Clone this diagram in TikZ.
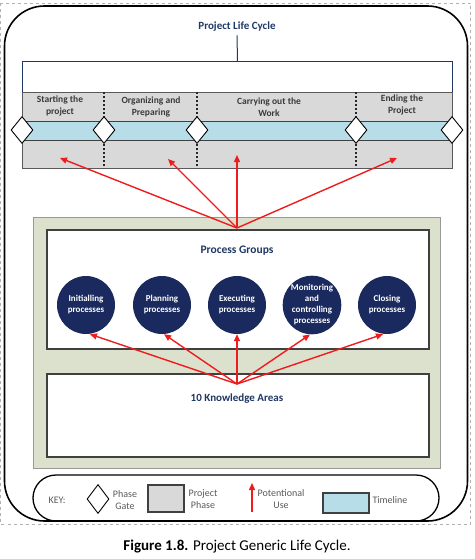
\documentclass[tikz,border=0pt]{standalone}
\usepackage{fontspec}
\setmainfont{Carlito}
\usetikzlibrary{shapes.geometric,arrows.meta}
\definecolor{navy}{HTML}{1F3864}
\definecolor{circnavy}{HTML}{1A2A5E}
\definecolor{phasegray}{HTML}{D9D9D9}
\definecolor{tlblue}{HTML}{B7DEE8}
\definecolor{sage}{HTML}{DCE1CD}
\definecolor{arrred}{HTML}{EE1C1C}
\definecolor{txtgray}{HTML}{3A3A3A}
\definecolor{keygray}{HTML}{595959}
\tikzset{
  gate/.style={shape=diamond,draw=black,line width=0.9pt,fill=white,minimum width=22pt,minimum height=27pt,inner sep=0pt},
  phaselbl/.style={align=center,text=txtgray,font=\fontsize{9.5}{12}\selectfont\bfseries},
  proc/.style={circle,fill=circnavy,minimum size=58pt,inner sep=0pt,align=center,text=white,font=\fontsize{9}{11}\selectfont\bfseries},
  usearrow/.style={draw=arrred,line width=1.4pt,-{Triangle[length=7pt,width=6pt]}},
  divider/.style={draw=black!85,line width=1.3pt,dash pattern=on 2pt off 2pt},
  keytxt/.style={align=center,text=keygray,font=\fontsize{10}{12}\selectfont},
  heading/.style={text=navy,font=\fontsize{11.5}{13}\selectfont\bfseries}
}
\begin{document}
\begin{tikzpicture}[x=1pt,y=-1pt]
\useasboundingbox (0,0) rectangle (474,559);
% dashed figure border
\draw[gray!60,dashed,line width=0.5pt] (0.5,3) rectangle (470.5,524);
% outer frame
\draw[black,line width=1.6pt,rounded corners=40pt] (4.5,6) rectangle (467.5,521);
% title
\node[heading,font=\fontsize{11}{13}\selectfont\bfseries] (title) at (237,27) {Project Life Cycle};
% life cycle bar
\node[draw=navy,line width=1pt,fill=white,minimum width=430pt,minimum height=31pt,inner sep=0pt,anchor=north west] (lcbar) at (22,61) {};
\draw[navy,line width=1pt] (title.south) -- (lcbar.north);
\node[draw=black!65,line width=1pt,fill=phasegray,minimum width=430pt,minimum height=76pt,inner sep=0pt,anchor=north west] (band) at (22,92) {};
\node[draw=black!75,line width=1pt,fill=tlblue,minimum width=430pt,minimum height=19pt,inner sep=0pt,anchor=north west] (timeline) at (22,121) {};
% dividers
\coordinate (d1t) at (104,92); \coordinate (d1b) at (104,168);
\coordinate (d2t) at (197,92); \coordinate (d2b) at (197,168);
\coordinate (d3t) at (356,92); \coordinate (d3b) at (356,168);
\draw[divider] (d1t) -- (d1b);
\draw[divider] (d2t) -- (d2b);
\draw[divider] (d3t) -- (d3b);
% gates
\node[gate] (g0) at (22,130) {};
\node[gate] (g1) at (104,130) {};
\node[gate] (g2) at (197,130) {};
\node[gate] (g3) at (356,130) {};
\node[gate] (g4) at (452,130) {};
% phase labels
\node[phaselbl] (p1) at (60,106) {Starting the\\project};
\node[phaselbl] (p2) at (151,107) {Organizing and\\Preparing};
\node[phaselbl] (p3) at (269,107) {Carrying out the\\Work};
\node[phaselbl] (p4) at (402,105) {Ending the\\Project};
% green panel
\node[draw=black!40,line width=1pt,fill=sage,minimum width=407pt,minimum height=251pt,inner sep=0pt,anchor=north west] (panel) at (33,217) {};
\node[draw=black!75,line width=1.5pt,fill=white,minimum width=382pt,minimum height=119pt,inner sep=0pt,anchor=north west] (pg) at (46,229) {};
\node[draw=black!75,line width=1.5pt,fill=white,minimum width=382pt,minimum height=83pt,inner sep=0pt,anchor=north west] (ka) at (46,373) {};
\node[heading] (pgtitle) at (237,251) {Process Groups};
\node[heading,font=\fontsize{11}{13}\selectfont\bfseries] (katitle) at (237,399) {10 Knowledge Areas};
% circles
\node[proc] (c1) at (86,305) {Initialling\\processes};
\node[proc] (c2) at (162,305) {Planning\\processes};
\node[proc] (c3) at (237,305) {Executing\\processes};
\node[proc] (c4) at (312,305) {Monitoring\\and\\controlling\\processes};
\node[proc] (c5) at (387,305) {Closing\\processes};
% arrows to phases
\coordinate (src1) at (237,228);
\coordinate (t1) at (60,158);
\coordinate (t2) at (168,159);
\coordinate (t3) at (237,155);
\coordinate (t4) at (397,158);
\draw[usearrow] (src1) -- (t1);
\draw[usearrow] (src1) -- (t2);
\draw[usearrow] (src1) -- (t3);
\draw[usearrow] (src1) -- (t4);
% arrows to process groups
\coordinate (src2) at (237,384);
\draw[usearrow] (src2) -- ([xshift=4pt]c1.south);
\draw[usearrow] (src2) -- ([xshift=2pt]c2.south);
\draw[usearrow] (src2) -- (c3.south);
\draw[usearrow] (src2) -- ([xshift=-2pt]c4.south);
\draw[usearrow] (src2) -- ([xshift=-4pt]c5.south);
% key
\draw[black,line width=1.3pt,rounded corners=23pt] (33,475) rectangle (439,521);
\node[keytxt] (keylbl) at (57,500) {KEY:};
\node[gate,minimum height=29pt] (kgate) at (98,499) {};
\node[keytxt] (kgatetxt) at (125,500) {Phase\\Gate};
\node[draw=black!75,line width=1.2pt,fill=phasegray,minimum width=36pt,minimum height=27pt,inner sep=0pt] (kphase) at (166,498.5) {};
\node[keytxt] (kphasetxt) at (203,499) {Project\\Phase};
\coordinate (kab) at (252,512);
\coordinate (kat) at (252,483);
\draw[usearrow] (kab) -- (kat);
\node[keytxt] (kusetxt) at (281,499) {Potentional\\Use};
\node[draw=black!75,line width=1.2pt,fill=tlblue,minimum width=46pt,minimum height=20pt,inner sep=0pt] (ktl) at (346,503) {};
\node[keytxt] (ktltxt) at (390,500) {Timeline};
% caption
\node[font=\fontsize{15}{17}\selectfont,text=black] (caption) at (237,547) {\textbf{Figure 1.8.} Project Generic Life Cycle.};
\end{tikzpicture}
\end{document}
